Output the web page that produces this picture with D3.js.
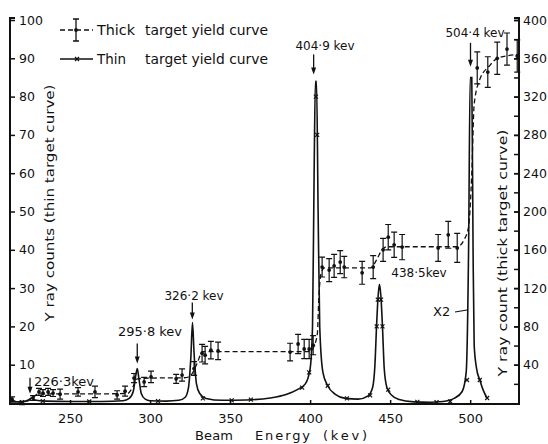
<!DOCTYPE html>
<html>
<head>
<meta charset="utf-8">
<script src="https://cdn.jsdelivr.net/npm/d3@7"></script>
<style>
  html, body { margin: 0; padding: 0; background: #fff; }
  svg { display: block; font-family: "DejaVu Sans", sans-serif; }
  .axis text { font-size: 12.5px; fill: #111; }
  .axis line { stroke: #111; stroke-width: 1.5; }
  .lbl { fill: #111; font-size: 12px; }
</style>
</head>
<body>
<svg id="chart" width="548" height="444"></svg>
<script>
// thick target yield (dashed curve with error bars), counts read on the left scale
const thickE = [213.8, 220, 226.9, 230.6, 233.1, 236.3, 239.4, 243.8, 255, 265.6,
  279.4, 284.4, 290, 296.3, 300.6, 316.3, 320, 327.5, 332.5, 334.4,
  338, 342.5, 387.5, 392.5, 396.3, 399.4, 401.9, 407.5, 411.9, 415,
  418.8, 421.3, 432.5, 439.4, 445.6, 448.8, 452.5, 457.5, 480, 486.3,
  491.9, 504.4, 511, 516.9, 523, 529.4];
const thickV = [1.0, 0, 1.3, 2.9, 2.6, 2.9, 2.6, 2.3, 2.9, 2.9,
  2.1, 3.1, 6.5, 5.5, 6.8, 6.3, 7.3, 9, 13, 12.5,
  13.8, 13.6, 13.3, 15.4, 14.1, 14.1, 15.1, 35.5, 34.7, 35.8,
  36.8, 35.5, 34, 35.5, 40, 43.3, 41.3, 40.7, 40.5, 43.9,
  40.5, 87.5, 86.4, 90, 92.4, 90.6];
const thickErr = [0.6, 0.4, 0.6, 0.9, 0.9, 0.9, 0.9, 1.3, 1.1, 1.5,
  1.1, 1.3, 1.2, 1.2, 1.5, 1.2, 1.6, 1.8, 2.3, 2.3,
  2.3, 2.3, 2.3, 2.5, 2.5, 2.5, 2.5, 2.6, 3, 3,
  3, 2.8, 3, 3, 3, 3.3, 3.3, 3.3, 3.5, 3.5,
  3.8, 4.2, 4, 4.2, 4.2, 4.2];

// the dashed step curve drawn through the thick target points
const fitE = [213, 220, 224, 227, 230, 250, 270, 286, 289, 292, 300, 322, 326, 329, 333,
  400, 402, 404.5, 405.5, 407, 409, 438, 441, 445, 448, 492, 496, 499, 501, 502.5,
  506, 512, 517, 530];
const fitV = [0.8, 0.2, 0.6, 1.5, 2.4, 2.4, 2.4, 2.5, 4, 6.3, 6.5, 6.6, 7.5, 10, 13.4,
  13.4, 14.5, 18, 28, 34, 35.3, 35.3, 37, 40, 40.8, 40.8, 42.5, 46, 60, 78,
  84.5, 88, 90, 91];

// thin target yield (solid curve)
const thinE = [213, 220, 224, 226, 228, 235, 250, 270, 283, 287,
  289.5, 291, 292, 293, 294.5, 297, 300, 310, 318, 322,
  324, 325.5, 326.5, 327.5, 329, 331, 335, 345, 360, 375,
  385, 392, 397, 400, 401.5, 402.5, 403.3, 404, 405, 406, 408,
  411, 416, 422, 430, 436, 439, 440.5, 441.5, 442.5, 443.3,
  444.2, 445.2, 446.3, 448, 451, 455, 465, 475, 483, 490,
  495, 497.5, 499, 500, 501, 501.8, 502.5, 504, 506, 508, 510.5];
const thinV = [0.3, 0.3, 0.8, 1.3, 0.8, 0.5, 0.4, 0.4, 0.6, 1.2,
  3, 7, 9, 6.5, 2.5, 1, 0.6, 0.5, 0.7, 1.5,
  4, 12, 21, 13, 5, 2.5, 1.2, 0.7, 0.8, 1.3,
  2.2, 3.5, 5, 9, 20, 60, 84, 84, 50, 20, 8,
  4.5, 2.2, 1.2, 1, 1.8, 4, 10, 20, 28, 31,
  28, 20, 9, 4, 2, 1, 0.3, 0.2, 0.4, 1.2,
  3, 8, 40, 85, 85, 40, 15, 9, 6, 3.5, 1.3];

// measured points marked with small crosses on the thin curve
const markE = [220, 233, 262, 305, 333, 351, 363, 395, 399.4, 403.6, 404.4, 411, 423, 437.5,
  441.6, 442.3, 444.3, 445.2, 448.8, 467, 479, 487.5, 498, 506, 510.6];
const markV = [0.2, 0.5, 0.4, 0.5, 1.2, 0.7, 0.9, 4, 8, 80, 70, 4.5, 1.2, 2,
  20, 27, 27, 20, 3.5, 0.3, 0.2, 0.4, 6, 6, 1.3];

const leftTicks = d3.range(10, 101, 10);
const rightTicks = d3.range(40, 401, 40);
const rightMinor = d3.range(20, 401, 20);
const xTicks = [250, 300, 350, 400, 450, 500];

// resonance labels: text, beam energy of the arrow, peak height (left scale)
const resText = ["226·3kev", "295·8 kev", "326·2 kev", "404·9 kev", "438·5kev", "504·4 kev"];
const resBeam = [225, 292, 326.4, 402.2, 443.3, 500.2];
const resPeak = [1.6, 9.5, 21, 85, 31, 87];

const svg = d3.select("#chart");
const ink = "#111";

const x = d3.scaleLinear().domain([212.5, 530.5]).range([10, 519]);
const yL = d3.scaleLinear().domain([0, 100]).range([403, 20]);
const yR = d3.scaleLinear().domain([0, 400]).range([403, 20]);

// axes
svg.append("g").attr("class", "axis")
  .attr("transform", "translate(10,0)")
  .call(d3.axisRight(yL).tickValues(leftTicks).tickSize(5).tickPadding(4).tickSizeOuter(0))
  .call(g => g.select(".domain").remove())
  .call(g => g.attr("font-family", null).attr("font-size", null));

svg.append("g").attr("class", "axis")
  .attr("transform", "translate(519,0)")
  .call(d3.axisRight(yR).tickValues(rightMinor).tickSizeInner(-5).tickFormat("").tickSizeOuter(0))
  .call(g => g.select(".domain").remove());

svg.append("g").attr("class", "axis")
  .attr("transform", "translate(519,0)")
  .call(d3.axisRight(yR).tickValues(rightTicks).tickSizeInner(-5).tickPadding(4).tickSizeOuter(0))
  .call(g => g.select(".domain").remove())
  .call(g => g.attr("font-family", null).attr("font-size", null));

svg.append("g").attr("class", "axis")
  .attr("transform", "translate(0,404)")
  .call(d3.axisBottom(x).tickValues(xTicks).tickSizeInner(-4).tickPadding(10).tickSizeOuter(0))
  .call(g => g.select(".domain").remove())
  .call(g => g.attr("font-family", null).attr("font-size", null))
  .call(g => g.selectAll("text").style("font-size", "13px"));

// frame
const frame = svg.append("g").attr("stroke", ink).attr("stroke-width", 2).attr("fill", "none");
frame.append("path").attr("d", "M15,18H10V405");
frame.append("path").attr("d", "M514,18H519V405");
frame.append("path").attr("d", "M9,404H520");

// thin target curve
const line = d3.line().x(d => x(d[0])).curve(d3.curveMonotoneX);
svg.append("path")
  .datum(thinE.map((e, i) => [e, thinV[i]]))
  .attr("fill", "none").attr("stroke", ink).attr("stroke-width", 1.6)
  .attr("d", line.y(d => yL(d[1])));

svg.append("g").attr("stroke", ink).attr("stroke-width", 1.2)
  .selectAll("path").data(markE.map((e, i) => [e, markV[i]])).join("path")
  .attr("d", d => {
    const cx = x(d[0]), cy = yL(d[1]), s = 2;
    return `M${cx - s},${cy - s}L${cx + s},${cy + s}M${cx - s},${cy + s}L${cx + s},${cy - s}`;
  });

// thick target curve
svg.append("path")
  .datum(fitE.map((e, i) => [e, fitV[i]]))
  .attr("fill", "none").attr("stroke", ink).attr("stroke-width", 1.3)
  .attr("stroke-dasharray", "5,3")
  .attr("d", line.y(d => yL(d[1])));

const thick = thickE.map((e, i) => ({e, v: thickV[i], err: thickErr[i]}));
const bars = svg.append("g").attr("stroke", ink).attr("stroke-width", 1.2);
bars.selectAll("path").data(thick).join("path")
  .attr("d", d => {
    const cx = x(d.e), t = yL(d.v + d.err), b = yL(d.v - d.err);
    return `M${cx},${t}V${b}M${cx - 3},${t}H${cx + 3}M${cx - 3},${b}H${cx + 3}`;
  });
svg.append("g").attr("fill", ink)
  .selectAll("circle").data(thick).join("circle")
  .attr("cx", d => x(d.e)).attr("cy", d => yL(d.v)).attr("r", 1.9);

// resonance arrows and labels
const arrowLen = [16, 20, 17, 20, 0, 24];
const labelPos = [[34, 386, "start", 13], [150, 336, "middle", 13], [194, 300, "middle", 12],
  [325, 50, "middle", 12], [419, 277, "middle", 12], [475, 37, "middle", 12]];
resText.forEach((t, i) => {
  const ax = x(resBeam[i]), tip = yL(resPeak[i]) - 3;
  if (arrowLen[i] > 0) {
    svg.append("line").attr("x1", ax).attr("x2", ax)
      .attr("y1", tip - arrowLen[i]).attr("y2", tip - 4)
      .attr("stroke", ink).attr("stroke-width", 1.3);
    svg.append("path").attr("fill", ink)
      .attr("d", `M${ax - 2.5},${tip - 7}L${ax + 2.5},${tip - 7}L${ax},${tip}Z`);
  }
  svg.append("text").attr("class", "lbl")
    .attr("x", labelPos[i][0]).attr("y", labelPos[i][1])
    .attr("text-anchor", labelPos[i][2]).style("font-size", labelPos[i][3] + "px").text(t);
});

// x2 note on the last peak
svg.append("text").attr("class", "lbl").attr("x", 433).attr("y", 316).style("font-size", "13px").text("X2");
svg.append("line").attr("x1", 455).attr("x2", 467).attr("y1", 312).attr("y2", 310)
  .attr("stroke", ink).attr("stroke-width", 1.2);

// legend
const lg = svg.append("g").attr("stroke", ink).attr("stroke-width", 1.3);
lg.append("line").attr("x1", 60).attr("x2", 93).attr("y1", 30).attr("y2", 30).attr("stroke-dasharray", "5,3");
lg.append("path").attr("d", "M76,19V41M73,19H79M73,41H79");
lg.append("line").attr("x1", 60).attr("x2", 93).attr("y1", 59).attr("y2", 59).attr("stroke-width", 1.6);
lg.append("path").attr("d", "M75,57L79,61M75,61L79,57");
svg.append("circle").attr("cx", 76).attr("cy", 30).attr("r", 1.9).attr("fill", ink);

const legText = [["Thick", 35, 38], ["Thin", 64, 29]];
legText.forEach(([w, y, len]) => {
  svg.append("text").attr("class", "lbl").style("font-size", "14px")
    .attr("x", 97).attr("y", y).attr("textLength", len).attr("lengthAdjust", "spacingAndGlyphs").text(w);
  svg.append("text").attr("class", "lbl").style("font-size", "14px")
    .attr("x", 145).attr("y", y).attr("textLength", 123).attr("lengthAdjust", "spacingAndGlyphs")
    .text("target yield curve");
});

// axis titles
svg.append("text").attr("class", "lbl").style("font-size", "13px")
  .attr("transform", "translate(54,203) rotate(-90)")
  .attr("text-anchor", "middle").attr("textLength", 237).attr("lengthAdjust", "spacingAndGlyphs")
  .text("Υ ray counts (thin target curve)");
svg.append("text").attr("class", "lbl").style("font-size", "13px")
  .attr("transform", "translate(507,253) rotate(-90)")
  .attr("text-anchor", "middle").attr("textLength", 247).attr("lengthAdjust", "spacingAndGlyphs")
  .text("Υ ray count (thick target curve)");

[["Beam", 195, 38], ["Energy", 255, 55], ["(kev)", 323, 44]].forEach(([w, x0, len]) => {
  svg.append("text").attr("class", "lbl").style("font-size", "13px")
    .attr("x", x0).attr("y", 440).attr("textLength", len).attr("lengthAdjust", "spacing").text(w);
});
</script>
</body>
</html>
